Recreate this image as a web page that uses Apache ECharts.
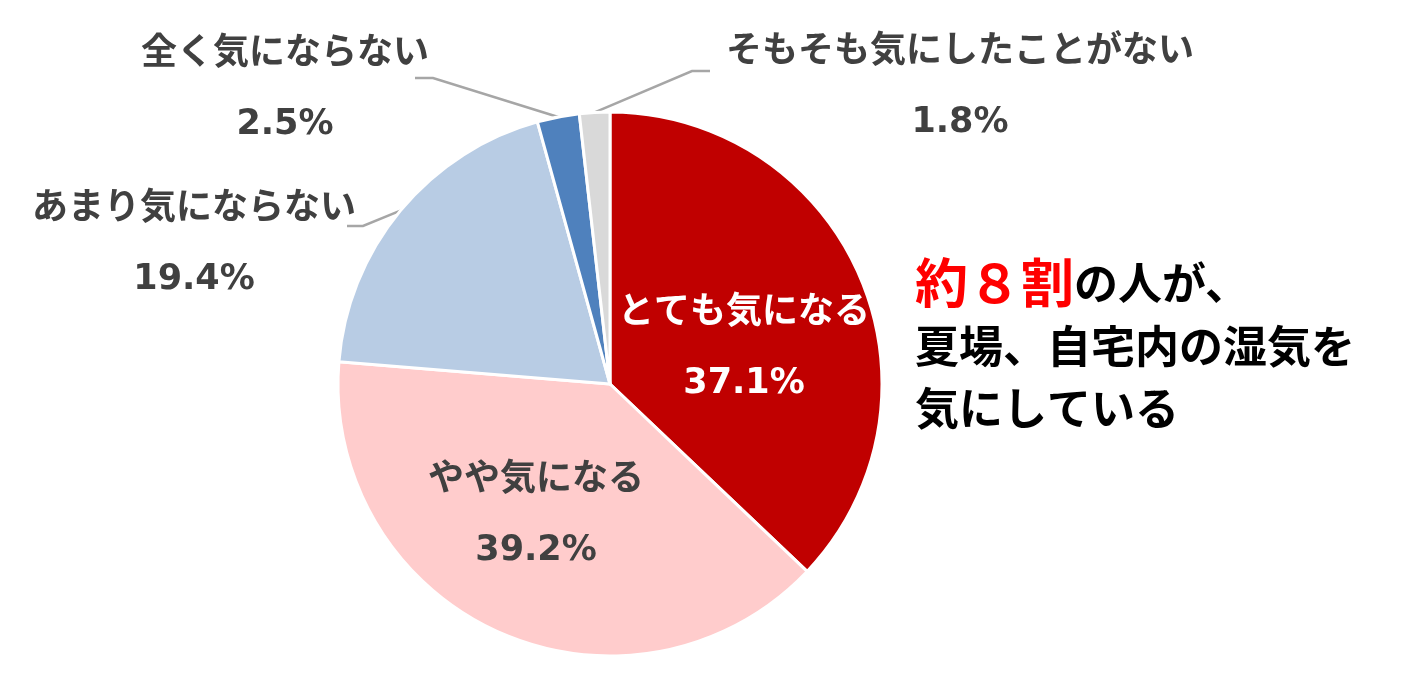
<!DOCTYPE html>
<html>
<head>
<meta charset="utf-8">
<script src="https://cdn.jsdelivr.net/npm/echarts@6/dist/echarts.min.js"></script>
<style>
  html, body { margin: 0; padding: 0; background: #ffffff; }
  #chart { width: 1420px; height: 691px; }
</style>
</head>
<body>
<div id="chart"></div>
<script>
// ---- data ----
const categories = ['とても気になる', 'やや気になる', 'あまり気にならない', '全く気にならない', 'そもそも気にしたことがない'];
const values = [37.1, 39.2, 19.4, 2.5, 1.8];
const colors = ['#C00000', '#FFCCCC', '#B8CCE4', '#4F81BD', '#D9D9D9'];
const labelColors = ['#FFFFFF', '#404040', '#404040', '#404040', '#404040'];
const insideFlags = [true, true, false, false, false];
const noteLines = ['{r|約８割}{b|の人が、}', '{b|夏場、自宅内の湿気を}', '{b|気にしている}'];

// ---- layout (label placement only) ----
const labelSpots = [
  { x: 744, y: 349 },
  { x: 536, y: 516 },
  { x: 194, y: 245, elbow: [363, 226], end: [347, 226] },
  { x: 285, y: 90, elbow: [433, 78], end: [415, 78] },
  { x: 960, y: 88, elbow: [692, 71], end: [710, 71] }
];

const FONT = "'DejaVu Sans', 'Noto Sans CJK JP', sans-serif";

const pieData = categories.map((name, i) => ({
  name: name,
  value: values[i],
  itemStyle: { color: colors[i] },
  label: {
    position: insideFlags[i] ? 'inside' : 'outside',
    color: labelColors[i]
  },
  labelLine: { show: !insideFlags[i] }
}));

const chart = echarts.init(document.getElementById('chart'), null, { renderer: 'canvas' });
chart.setOption({
  backgroundColor: '#ffffff',
  animation: false,
  title: {
    text: noteLines.join('\n'),
    left: 910,
    top: 246,
    textStyle: {
      rich: {
        r: { fontSize: 53, fontWeight: 'bold', color: '#FF0000', fontFamily: "'Noto Sans CJK JP', sans-serif", lineHeight: 64 },
        b: { fontSize: 44, fontWeight: 'bold', color: '#000000', fontFamily: "'Noto Sans CJK JP', sans-serif", lineHeight: 62 }
      }
    }
  },
  series: [{
    type: 'pie',
    center: [610, 384],
    radius: [0, 272],
    startAngle: 90,
    clockwise: true,
    avoidLabelOverlap: false,
    itemStyle: { borderColor: '#ffffff', borderWidth: 3 },
    emphasis: { disabled: true },
    label: {
      show: true,
      formatter: function (p) { return '{n|' + p.name + '}\n{p|' + p.value.toFixed(1) + '%}'; },
      fontFamily: FONT,
      fontWeight: 'bold',
      fontSize: 35,
      rich: {
        n: { fontSize: 36, fontWeight: 'bold', fontFamily: FONT, lineHeight: 70 },
        p: { fontSize: 35, fontWeight: 'bold', fontFamily: FONT, lineHeight: 70 }
      }
    },
    labelLine: {
      show: true,
      length: 20,
      length2: 20,
      lineStyle: { color: '#A6A6A6', width: 2.5 }
    },
    labelLayout: function (p) {
      const s = labelSpots[p.dataIndex];
      const o = { x: s.x, y: s.y, align: 'center', verticalAlign: 'middle' };
      if (s.elbow && p.labelLinePoints && p.labelLinePoints.length) {
        o.labelLinePoints = [p.labelLinePoints[0], s.elbow, s.end];
      }
      return o;
    },
    data: pieData
  }]
});
</script>
</body>
</html>
